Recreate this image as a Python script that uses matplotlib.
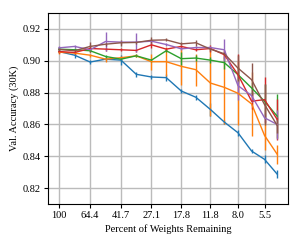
import matplotlib
matplotlib.use("Agg")
import matplotlib.pyplot as plt

plt.rcParams["font.family"] = ["Liberation Serif", "DejaVu Serif"]

# percent of weights remaining at each pruning round
percent = [100, 80.2, 64.4, 51.8, 41.7, 33.6, 27.1, 22.0, 17.8, 14.5, 11.8, 9.7, 8.0, 6.6, 5.5, 4.6]
tick_values = [100, 64.4, 41.7, 27.1, 17.8, 11.8, 8.0, 5.5]
tick_labels = ["100", "64.4", "41.7", "27.1", "17.8", "11.8", "8.0", "5.5"]

acc_blue = [0.9058, 0.9035, 0.8992, 0.9010, 0.9004, 0.8915, 0.8898, 0.8894,
            0.8810, 0.8771, 0.8694, 0.8615, 0.8548, 0.8433, 0.8381, 0.8288]
err_blue = [0.001, 0.0015, 0.001, 0.001, 0.003, 0.0015, 0.001, 0.002,
            0.0015, 0.0015, 0.004, 0.001, 0.002, 0.001, 0.0025, 0.0025]

acc_orange = [0.9054, 0.9048, 0.9035, 0.9010, 0.9019, 0.9031, 0.8994, 0.8994,
              0.8965, 0.8944, 0.8860, 0.8833, 0.8796, 0.8729, 0.8531, 0.8413]
err_orange = [0.001, 0.001, 0.001, 0.002, 0.001, 0.001, 0.005, 0.009,
              0.012, 0.010, 0.021, 0.023, 0.020, 0.020, 0.009, 0.006]

acc_green = [0.9073, 0.9069, 0.9063, 0.9027, 0.9010, 0.9031, 0.9004, 0.9063,
             0.9013, 0.9017, 0.9004, 0.8988, 0.8913, 0.8829, 0.8746, 0.8652]
err_green = [0.001, 0.001, 0.001, 0.001, 0.001, 0.001, 0.001, 0.001,
             0.004, 0.002, 0.002, 0.004, 0.005, 0.004, 0.011, 0.014]

acc_red = [0.9058, 0.9052, 0.9077, 0.9073, 0.9069, 0.9065, 0.9100, 0.9073,
           0.9090, 0.9069, 0.9077, 0.9038, 0.8913, 0.8746, 0.8756, 0.8631]
err_red = [0.001, 0.001, 0.002, 0.001, 0.001, 0.001, 0.002, 0.001,
           0.001, 0.001, 0.002, 0.003, 0.013, 0.005, 0.014, 0.013]

acc_purple = [0.9081, 0.9090, 0.9069, 0.9121, 0.9117, 0.9117, 0.9123, 0.9102,
              0.9075, 0.9083, 0.9083, 0.9069, 0.8844, 0.8781, 0.8642, 0.8600]
err_purple = [0.001, 0.001, 0.001, 0.006, 0.001, 0.006, 0.001, 0.001,
              0.001, 0.001, 0.001, 0.007, 0.009, 0.004, 0.003, 0.009]

acc_brown = [0.9071, 0.9063, 0.9090, 0.9104, 0.9113, 0.9115, 0.9129, 0.9131,
             0.9106, 0.9113, 0.9073, 0.9044, 0.8954, 0.8881, 0.8725, 0.8594]
err_brown = [0.001, 0.001, 0.003, 0.001, 0.002, 0.001, 0.002, 0.001,
             0.001, 0.002, 0.001, 0.001, 0.008, 0.0105, 0.013, 0.005]

series = [
    (acc_blue, err_blue, "C0"),
    (acc_orange, err_orange, "C1"),
    (acc_green, err_green, "C2"),
    (acc_red, err_red, "C3"),
    (acc_purple, err_purple, "C4"),
    (acc_brown, err_brown, "C5"),
]

fig = plt.figure(figsize=(3.02, 2.45), dpi=100)
ax = fig.add_axes([0.159, 0.167, 0.795, 0.780])

for acc, err, color in series:
    ax.errorbar(percent, acc, yerr=err, color=color, linewidth=1.0, elinewidth=1.0)

ax.set_xscale("log")
ax.invert_xaxis()
ax.set_xticks(tick_values)
ax.set_xticklabels(tick_labels)
ax.minorticks_off()
ax.set_ylim(0.81, 0.93)
ax.set_yticks([0.82, 0.84, 0.86, 0.88, 0.90, 0.92])
ax.tick_params(labelsize=7.5, length=3, width=0.8, pad=2)
ax.grid(True, color="#bbbbbb", linewidth=1.0)
ax.set_axisbelow(True)

ax.set_xlabel("Percent of Weights Remaining", fontsize=7.5, labelpad=3)
ax.set_ylabel("Val. Accuracy (30K)", fontsize=7.5, labelpad=3)

fig.savefig("out.png", dpi=100)
